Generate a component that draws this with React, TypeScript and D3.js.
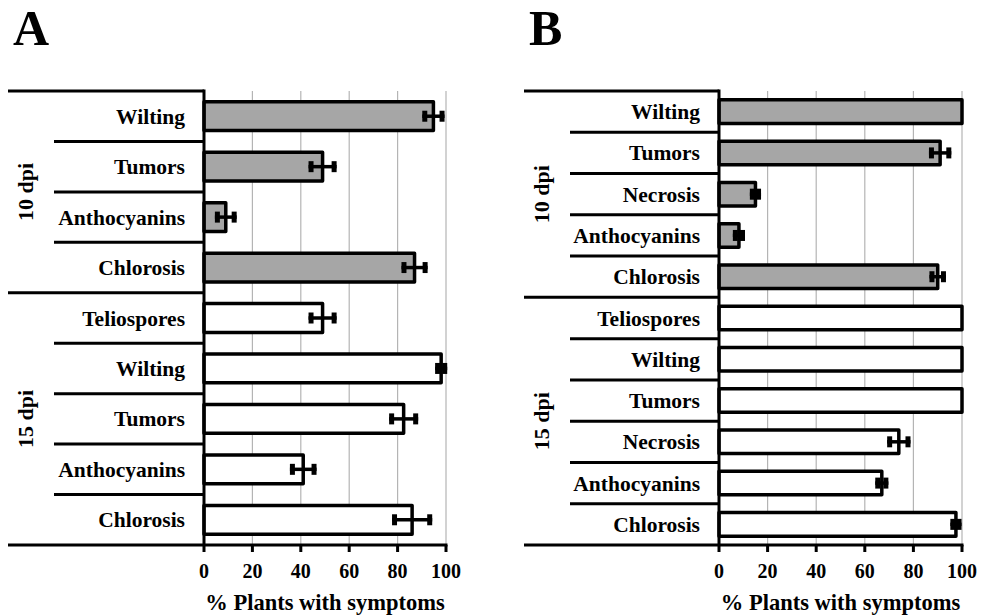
import React from "react";
import * as d3 from "d3";

// ---- data ----
const groupsA = ["10 dpi", "15 dpi"];
const catsA10 = ["Wilting", "Tumors", "Anthocyanins", "Chlorosis"];
const catsA15 = ["Teliospores", "Wilting", "Tumors", "Anthocyanins", "Chlorosis"];
const valsA10 = [94.8, 49, 9, 87];
const errA10 = [4.6, 5.8, 4.5, 5.4];
const valsA15 = [49, 98, 82.5, 41, 86];
const errA15 = [5.8, 2.5, 6, 5.5, 8.3];

const groupsB = ["10 dpi", "15 dpi"];
const catsB10 = ["Wilting", "Tumors", "Necrosis", "Anthocyanins", "Chlorosis"];
const catsB15 = ["Teliospores", "Wilting", "Tumors", "Necrosis", "Anthocyanins", "Chlorosis"];
const valsB10 = [100, 91, 15, 8.2, 90];
const errB10 = [0, 4.6, 2.3, 2.5, 3.4];
const valsB15 = [100, 100, 100, 74, 67, 97.5];
const errB15 = [0, 0, 0, 4.8, 2.7, 2.3];

const xTicks = [0, 20, 40, 60, 80, 100];
const axisTitle = "% Plants with symptoms";

const FONT = "Liberation Serif";
const GRAY = "#a6a6a6";

type PanelProps = {
  letter: string;
  letterX: number;
  groups: string[];
  cats: string[][];
  vals: number[][];
  errs: number[][];
  fills: string[];
  x0: number;
  x1: number;
  outerLeft: number;
  innerLeft: number;
  groupLabelX: number;
};

const textStyle: React.CSSProperties = { fontFamily: FONT, fontWeight: 700 };

function Panel(p: PanelProps) {
  const top = 91;
  const bottom = 545;
  const rows: { cat: string; v: number; e: number; fill: string; g: number; i: number }[] = [];
  p.cats.forEach((cs, g) =>
    cs.forEach((c, i) => rows.push({ cat: c, v: p.vals[g][i], e: p.errs[g][i], fill: p.fills[g], g, i }))
  );
  const x = d3.scaleLinear().domain([0, 100]).range([p.x0, p.x1]);
  const pad = 0.43;
  const y = d3
    .scaleBand<number>()
    .domain(d3.range(rows.length))
    .range([top, bottom])
    .paddingInner(pad)
    .paddingOuter(pad / 2);
  const step = y.step();
  const bw = y.bandwidth();
  const bandTop = (k: number) => (y(k) as number) - (step * pad) / 2;

  const groupStarts: number[] = [];
  let acc = 0;
  p.cats.forEach((cs) => {
    groupStarts.push(acc);
    acc += cs.length;
  });

  return (
    <g>
      <text x={p.letterX} y={45} style={{ ...textStyle, fontSize: 50 }}>
        {p.letter}
      </text>
      {/* gridlines */}
      {xTicks.slice(1).map((t) => (
        <line key={t} x1={x(t)} x2={x(t)} y1={top} y2={bottom} stroke="#b4b4b4" strokeWidth={1.2} />
      ))}
      {/* bars */}
      {rows.map((r, k) => (
        <rect
          key={"b" + k}
          x={x(0)}
          y={y(k) as number}
          width={x(r.v) - x(0)}
          height={bw}
          fill={r.fill}
          stroke="#000"
          strokeWidth={3.5}
          strokeLinejoin="round"
        />
      ))}
      {/* error bars */}
      {rows.map((r, k) => {
        if (!r.e) return null;
        const cy = (y(k) as number) + bw / 2;
        const xl = x(r.v - r.e);
        const xr = x(r.v + r.e);
        const ch = 11;
        return (
          <g key={"e" + k} stroke="#000">
            <line x1={xl} x2={xr} y1={cy} y2={cy} strokeWidth={3.5} />
            <line x1={xl + 2.5} x2={xl + 2.5} y1={cy - ch / 2} y2={cy + ch / 2} strokeWidth={5} />
            <line x1={xr - 2.5} x2={xr - 2.5} y1={cy - ch / 2} y2={cy + ch / 2} strokeWidth={5} />
          </g>
        );
      })}
      {/* category labels */}
      {rows.map((r, k) => (
        <text
          key={"l" + k}
          x={p.x0 - 19}
          y={(y(k) as number) + bw / 2 + 7.5}
          textAnchor="end"
          style={{ ...textStyle, fontSize: 21.5 }}
        >
          {r.cat}
        </text>
      ))}
      {/* separators */}
      {rows.map((r, k) => {
        const isGroup = r.i === 0;
        return (
          <line
            key={"s" + k}
            x1={isGroup ? p.outerLeft : p.innerLeft}
            x2={p.x0}
            y1={bandTop(k)}
            y2={bandTop(k)}
            stroke="#000"
            strokeWidth={3}
          />
        );
      })}
      {/* group labels */}
      {p.groups.map((gname, g) => {
        const s = groupStarts[g];
        const e = s + p.cats[g].length;
        const cy = (bandTop(s) + (e < rows.length ? bandTop(e) : bottom)) / 2;
        return (
          <text
            key={"g" + g}
            transform={`translate(${p.groupLabelX},${cy}) rotate(-90)`}
            textAnchor="middle"
            style={{ ...textStyle, fontSize: 22 }}
          >
            {gname}
          </text>
        );
      })}
      {/* axes */}
      <line x1={p.outerLeft} x2={p.x1 + 1.5} y1={bottom} y2={bottom} stroke="#000" strokeWidth={3} />
      <line x1={p.x0} x2={p.x0} y1={top - 1.5} y2={bottom} stroke="#000" strokeWidth={3} />
      {xTicks.map((t) => (
        <g key={"t" + t}>
          <line x1={x(t)} x2={x(t)} y1={bottom} y2={bottom + 7} stroke="#000" strokeWidth={3} />
          <text x={x(t)} y={578} textAnchor="middle" style={{ ...textStyle, fontSize: 20 }}>
            {t}
          </text>
        </g>
      ))}
      <text
        x={(p.x0 + p.x1) / 2}
        y={610}
        textAnchor="middle"
        style={{ ...textStyle, fontSize: 22.5 }}
      >
        {axisTitle}
      </text>
    </g>
  );
}

export default function App() {
  return (
    <svg width={982} height={616} style={{ position: "absolute", left: 0, top: 0, background: "#fff" }}>
      <rect width={982} height={616} fill="#fff" />
      <Panel
        letter="A"
        letterX={13}
        groups={groupsA}
        cats={[catsA10, catsA15]}
        vals={[valsA10, valsA15]}
        errs={[errA10, errA15]}
        fills={[GRAY, "#fff"]}
        x0={204}
        x1={446}
        outerLeft={8}
        innerLeft={54}
        groupLabelX={33}
      />
      <Panel
        letter="B"
        letterX={529}
        groups={groupsB}
        cats={[catsB10, catsB15]}
        vals={[valsB10, valsB15]}
        errs={[errB10, errB15]}
        fills={[GRAY, "#fff"]}
        x0={719}
        x1={962}
        outerLeft={524}
        innerLeft={570}
        groupLabelX={549}
      />
    </svg>
  );
}
